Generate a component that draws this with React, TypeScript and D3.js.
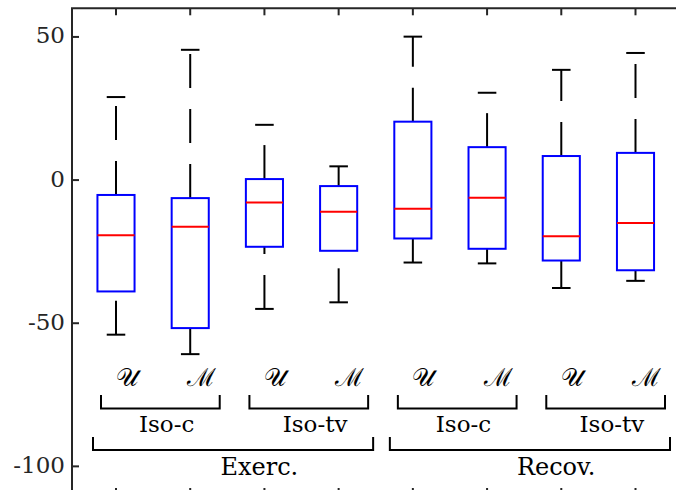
import { useEffect, useRef } from "react";
import * as d3 from "d3";

// one box per condition, left to right
const boxLabels = ["𝒰", "ℳ", "𝒰", "ℳ", "𝒰", "ℳ", "𝒰", "ℳ"];
const upperCap = [29.0, 45.5, 19.3, 4.8, 50.1, 30.5, 38.5, 44.4];
const q3 = [-5.2, -6.3, 0.35, -2.1, 20.4, 11.5, 8.4, 9.5];
const median = [-19.3, -16.3, -7.8, -11.1, -10.0, -6.2, -19.6, -15.0];
const q1 = [-38.9, -51.7, -23.3, -24.7, -20.4, -24.0, -28.1, -31.5];
const lowerCap = [-54.0, -60.8, -45.0, -42.7, -28.8, -29.1, -37.7, -35.2];

// grouping labels under the boxes
const protocols = ["Iso-c", "Iso-tv", "Iso-c", "Iso-tv"]; // 2 boxes each
const phases = ["Exerc.", "Recov."]; // 4 boxes each
const yTicks = [-100, -50, 0, 50];

const FONT = "'DejaVu Serif', 'Liberation Serif', 'Times New Roman', Times, serif";
const INK = "#262626";

export default function App() {
  const svgRef = useRef<SVGSVGElement | null>(null);

  useEffect(() => {
    const width = 676;
    const height = 490;
    const left = 72;
    const top = 8.3;
    const bottom = 495;

    const svg = d3.select(svgRef.current);
    svg.selectAll("*").remove();

    const x = d3.scaleLinear().domain([1, 8]).range([116, 635.5]);
    const y = d3.scaleLinear().domain([-110, 60]).range([bottom, top]);
    const boxW = x(1.5) - x(1);
    const capW = x(1.25) - x(1);
    const idx = d3.range(boxLabels.length);

    const label = (sel: d3.Selection<SVGTextElement, unknown, null, undefined>, size: number) =>
      sel.attr("font-family", FONT).attr("font-size", size);

    // frame
    const frame = svg.append("g").attr("stroke", INK).attr("stroke-width", 2).attr("fill", "none");
    frame.append("line").attr("x1", left).attr("x2", left).attr("y1", top).attr("y2", height + 10);
    frame.append("line").attr("x1", left - 1).attr("x2", width + 10).attr("y1", top).attr("y2", top);
    frame.append("line").attr("x1", left - 1).attr("x2", width + 10).attr("y1", bottom).attr("y2", bottom);

    // y ticks
    yTicks.forEach((v) => {
      svg.append("line")
        .attr("x1", left).attr("x2", left + 7)
        .attr("y1", y(v)).attr("y2", y(v))
        .attr("stroke", INK).attr("stroke-width", 2);
      label(svg.append("text"), 23)
        .attr("x", left - 7).attr("y", y(v) - 1.5)
        .attr("text-anchor", "end").attr("dominant-baseline", "central")
        .attr("fill", INK)
        .text(v);
    });

    // x ticks on top and bottom
    idx.forEach((i) => {
      const cx = x(i + 1);
      svg.append("line").attr("x1", cx).attr("x2", cx).attr("y1", top).attr("y2", top + 7)
        .attr("stroke", INK).attr("stroke-width", 2);
      svg.append("line").attr("x1", cx).attr("x2", cx).attr("y1", bottom).attr("y2", bottom - 7)
        .attr("stroke", INK).attr("stroke-width", 2);
    });

    // boxes
    const g = svg.append("g");
    idx.forEach((i) => {
      const cx = x(i + 1);
      // whiskers drawn from lower value to higher value (dash phase starts there)
      g.append("line")
        .attr("x1", cx).attr("x2", cx).attr("y1", y(lowerCap[i])).attr("y2", y(q1[i]))
        .attr("stroke", "#000").attr("stroke-width", 2).attr("stroke-dasharray", "34 21");
      g.append("line")
        .attr("x1", cx).attr("x2", cx).attr("y1", y(q3[i])).attr("y2", y(upperCap[i]))
        .attr("stroke", "#000").attr("stroke-width", 2).attr("stroke-dasharray", "34 21");
      [lowerCap[i], upperCap[i]].forEach((v) => {
        g.append("line")
          .attr("x1", cx - capW / 2).attr("x2", cx + capW / 2)
          .attr("y1", y(v)).attr("y2", y(v))
          .attr("stroke", "#000").attr("stroke-width", 2);
      });
      g.append("rect")
        .attr("x", cx - boxW / 2).attr("width", boxW)
        .attr("y", y(q3[i])).attr("height", y(q1[i]) - y(q3[i]))
        .attr("fill", "none").attr("stroke", "#0000ff").attr("stroke-width", 2);
      g.append("line")
        .attr("x1", cx - boxW / 2).attr("x2", cx + boxW / 2)
        .attr("y1", y(median[i])).attr("y2", y(median[i]))
        .attr("stroke", "#ff0000").attr("stroke-width", 2);
      label(g.append("text"), 25)
        .attr("x", cx + 11).attr("y", 386)
        .attr("text-anchor", "middle")
        .attr("fill", "#000")
        .text(boxLabels[i]);
    });

    const bracket = (x0: number, x1: number, yTop: number, yLine: number) => {
      svg.append("path")
        .attr("d", `M${x0},${yTop}V${yLine}H${x1}V${yTop}`)
        .attr("fill", "none").attr("stroke", "#000").attr("stroke-width", 2);
    };

    protocols.forEach((p, k) => {
      const a = x(2 * k + 1);
      const b = x(2 * k + 2);
      bracket(a - 15, b + 29.5, 395, 408.5);
      label(svg.append("text"), 23)
        .attr("x", (a + b) / 2 + 13.5).attr("y", 432)
        .attr("text-anchor", "middle")
        .attr("fill", "#000")
        .text(p);
    });

    phases.forEach((p, k) => {
      const a = x(4 * k + 1);
      const b = x(4 * k + 4);
      bracket(a - 23, b + 34.5, 437, 450);
      label(svg.append("text"), 24)
        .attr("x", (a + b) / 2 + 32).attr("y", 475)
        .attr("text-anchor", "middle")
        .attr("fill", "#000")
        .text(p);
    });
  }, []);

  return (
    <svg
      ref={svgRef}
      width={676}
      height={490}
      style={{ position: "absolute", left: 0, top: 0, display: "block", background: "#fff" }}
    />
  );
}
